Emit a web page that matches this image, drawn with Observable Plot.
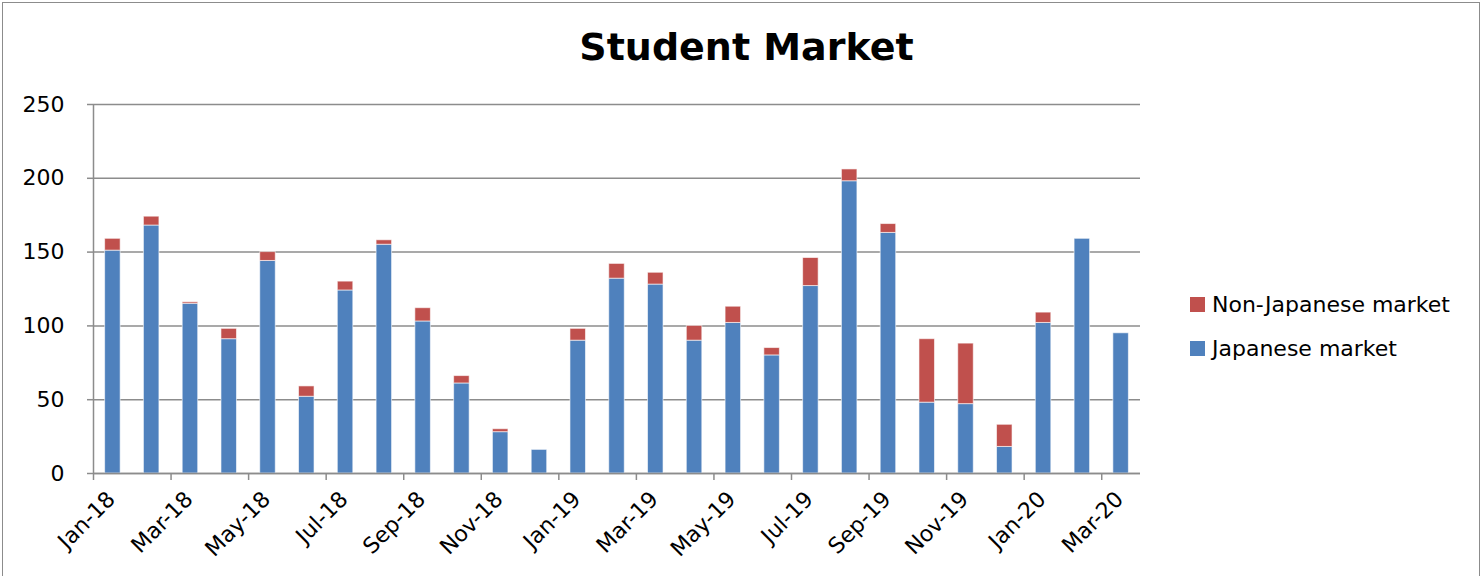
<!DOCTYPE html>
<html><head><meta charset="utf-8">
<script src="https://cdn.jsdelivr.net/npm/d3@7"></script>
<script src="https://cdn.jsdelivr.net/npm/@observablehq/plot@0.6"></script>
<style>
body{margin:0;background:#fff;font-family:"DejaVu Sans",sans-serif;}
#wrap{position:relative;width:1483px;height:576px;overflow:hidden;background:#fff;}
#frame{position:absolute;left:2px;top:2px;width:1478px;height:590px;border:1.5px solid #8c8c8c;box-sizing:border-box;pointer-events:none;}
#title{position:absolute;top:25px;left:5px;width:1483px;text-align:center;font-weight:bold;font-size:38px;color:#000;line-height:normal;}
#legend{position:absolute;left:1190px;top:282px;font-size:22px;color:#000;}
.item{display:flex;align-items:center;height:44px;}
.sw{width:15px;height:15px;margin-right:7px;}
#chart{position:absolute;left:0;top:0;}
</style>
</head><body>
<div id="wrap"><div id="chart"></div><div id="title">Student Market</div><div id="legend"></div><div id="frame"></div></div>
<script>
const months = ["Jan-18","Feb-18","Mar-18","Apr-18","May-18","Jun-18","Jul-18","Aug-18","Sep-18","Oct-18","Nov-18","Dec-18",
"Jan-19","Feb-19","Mar-19","Apr-19","May-19","Jun-19","Jul-19","Aug-19","Sep-19","Oct-19","Nov-19","Dec-19",
"Jan-20","Feb-20","Mar-20"];
const japanese =    [151,168,115,91,144,52,124,155,103,61,28,16,90,132,128,90,102,80,127,198,163,48,47,18,102,159,95];
const nonJapanese = [8,6,1,7,6,7,6,3,9,5,2,0,8,10,8,10,11,5,19,8,6,43,41,15,7,0,0];
const seriesNames = ["Japanese market","Non-Japanese market"];
const seriesColors = ["#4F81BD","#C0504D"];
const yTicks = [0,50,100,150,200,250];
const xTicks = months.filter((d,i)=>i%2===0);

const rows = [];
months.forEach((m,i)=>{
  rows.push({month:m, series:seriesNames[0], value:japanese[i]});
  rows.push({month:m, series:seriesNames[1], value:nonJapanese[i]});
});

const W = 1483, H = 576, ml = 93, mr = 343, mt = 104, mb = 103;
const step = (W - ml - mr) / months.length;

const plot = Plot.plot({
  width: W, height: H,
  marginLeft: ml, marginRight: mr, marginTop: mt, marginBottom: mb,
  style: {fontFamily: '"DejaVu Sans", sans-serif', color: "#000", background: "transparent"},
  x: {domain: months, paddingInner: 0.6, paddingOuter: 0.3, round: false, axis: null},
  y: {domain: [0,250], axis: null},
  color: {domain: seriesNames, range: seriesColors},
  marks: [
    Plot.gridY(yTicks, {stroke: "#8c8c8c", strokeOpacity: 1, strokeWidth: 1.5}),
    Plot.rectY(rows, Plot.stackY({x: "month", y: "value", fill: "series", stroke: "#fff", strokeOpacity: 0.6, strokeWidth: 1, order: seriesNames})),
    Plot.ruleY([0], {stroke: "#8c8c8c", strokeWidth: 1.5}),
    Plot.ruleX([months[0]], {dx: -step/2, stroke: "#8c8c8c", strokeWidth: 1.5}),
    Plot.axisY({ticks: yTicks, tickSize: 6, tickPadding: 23, fontSize: 22, stroke: "#8c8c8c", strokeWidth: 1.5, label: null}),
    Plot.axisX({ticks: xTicks, dx: -step/2, tickSize: 7, tickFormat: () => "", stroke: "#8c8c8c", strokeWidth: 1.5, label: null}),
    Plot.axisX({ticks: xTicks, dx: -step/2 + 18, tickSize: 0, tickPadding: 22, tickRotate: -45, fontSize: 22, label: null})
  ]
});
document.getElementById("chart").appendChild(plot);

const leg = document.getElementById("legend");
[1,0].forEach(k=>{
  const it = document.createElement("div"); it.className="item";
  const sw = document.createElement("div"); sw.className="sw"; sw.style.background=seriesColors[k];
  const tx = document.createElement("span"); tx.textContent=seriesNames[k];
  it.appendChild(sw); it.appendChild(tx); leg.appendChild(it);
});
</script>
</body></html>
